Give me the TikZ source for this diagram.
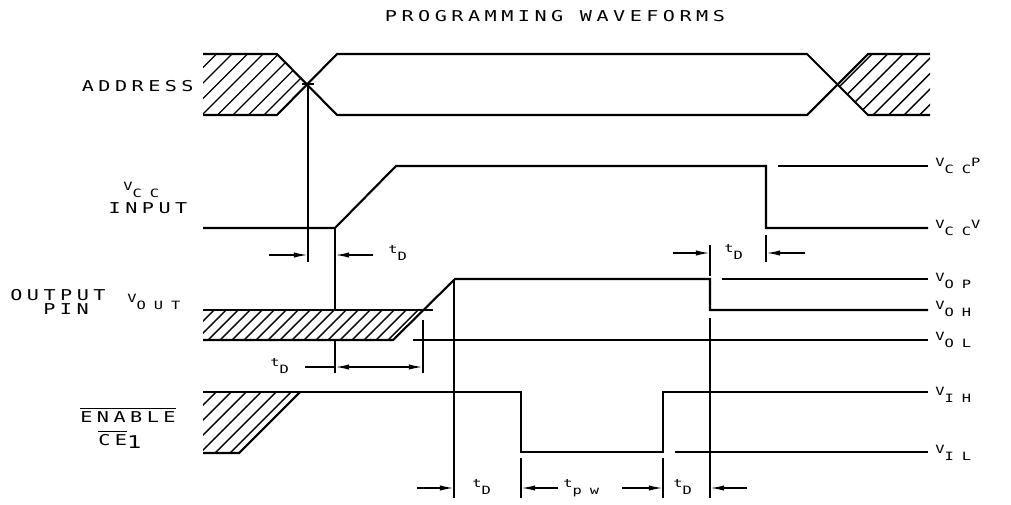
\documentclass[tikz,border=0pt]{standalone}
\usepackage{fontspec}
\usetikzlibrary{arrows.meta}
\newfontfamily\plotfont[FakeStretch=1.35, LetterSpace=30]{DejaVu Sans Mono}
\newfontfamily\plotsmall[FakeStretch=1.35, LetterSpace=70]{DejaVu Sans Mono}
\newcommand{\lo}[1]{\raisebox{-4pt}{#1}}

\begin{document}
\begin{tikzpicture}[x=0.02cm, y=-0.02cm,
    wave/.style={line width=1.2pt},
    hatch/.style={line width=0.8pt},
    ext/.style={line width=0.9pt},
    dim/.style={line width=0.9pt, -{Latex[length=8pt, width=3pt]}},
    lbl/.style={font=\plotfont\fontsize{8.5}{10}\selectfont, inner sep=0pt},
    vlbl/.style={font=\plotsmall\fontsize{6.5}{8}\selectfont, inner sep=0pt}
]
    \useasboundingbox (0,0) rectangle (1011,504);

    % Title
    \node[lbl, anchor=base] (title) at (555,21) {PROGRAMMING WAVEFORMS};

    % Address
    \begin{scope}
        \clip (203,54) -- (277,54) -- (308,84) -- (277,115) -- (203,115) -- cycle;
        \foreach \x in {140,155.5,...,320} \draw[hatch] (\x,115) -- ++(61,-61);
    \end{scope}
    \begin{scope}
        \clip (838,84) -- (868,54) -- (930,54) -- (930,115) -- (868,115) -- cycle;
        \foreach \x in {780,795.5,...,940} \draw[hatch] (\x,115) -- ++(61,-61);
    \end{scope}
    \draw[wave] (203,54) -- (277,54) -- (337,115) -- (807,115) -- (868,54) -- (930,54);
    \draw[wave] (203,115) -- (277,115) -- (337,54) -- (807,54) -- (868,115) -- (930,115);
    \draw[ext] (302,84) -- (314,84);
    \node[lbl, anchor=base east] (addr) at (194,91) {ADDRESS};

    % Vcc input
    \draw[wave] (203,228) -- (335,228) -- (396,166) -- (766,166) -- (766,228) -- (928,228);
    \draw[wave] (778,166) -- (928,166);
    \node[vlbl, anchor=base west] (vcc) at (123,190) {V\lo{CC}};
    \node[lbl, anchor=base] (input) at (148,213) {INPUT};
    \node[vlbl, anchor=base west] (vccp) at (935,166) {V\lo{CC}P};
    \node[vlbl, anchor=base west] (vccv) at (935,228) {V\lo{CC}V};

    % Output pin
    \begin{scope}
        \clip (203,310) -- (423,310) -- (393,340) -- (203,340) -- cycle;
        \foreach \x in {160,172,...,440} \draw[hatch] (\x,340) -- ++(30,-30);
    \end{scope}
    \draw[wave] (203,310) -- (433,310);
    \draw[wave] (203,340) -- (393,340) -- (455,279) -- (710,279) -- (710,310) -- (928,310);
    \draw[wave] (722,279) -- (928,279);
    \draw[wave] (413,340) -- (928,340);
    \node[lbl, anchor=base west] (outl) at (10,300) {OUTPUT};
    \node[lbl, anchor=base west] (pin) at (43,314) {PIN};
    \node[vlbl, anchor=base west] (vout) at (127,302) {V\lo{OUT}};
    \node[vlbl, anchor=base west] (vop) at (935,281) {V\lo{OP}};
    \node[vlbl, anchor=base west] (voh) at (935,309) {V\lo{OH}};
    \node[vlbl, anchor=base west] (vol) at (935,340) {V\lo{OL}};

    % Enable
    \begin{scope}
        \clip (203,392) -- (300,392) -- (239,453) -- (203,453) -- cycle;
        \foreach \x in {140,155,...,320} \draw[hatch] (\x,453) -- ++(61,-61);
    \end{scope}
    \draw[wave] (203,392) -- (521,392) -- (521,452) -- (663,452) -- (663,392) -- (928,392);
    \draw[wave] (203,453) -- (239,453) -- (300,392);
    \draw[wave] (675,452) -- (928,452);
    \node[lbl, anchor=base west] (enable) at (80,422) {$\overline{\hbox{\plotfont\fontsize{8.5}{10}\selectfont ENABLE}}$};
    \node[lbl, anchor=base west] (ce) at (98,445) {$\overline{\hbox{\plotfont\fontsize{8.5}{10}\selectfont CE}}$\raisebox{-2pt}{\fontsize{10}{10}\selectfont 1}};
    \node[vlbl, anchor=base west] (vih) at (935,395) {V\lo{IH}};
    \node[vlbl, anchor=base west] (vil) at (935,453) {V\lo{IL}};

    % Extension lines
    \draw[ext] (308,84) -- (308,262);
    \draw[ext] (335,228) -- (335,309);
    \draw[ext] (335,340) -- (335,373);
    \draw[ext] (423,320) -- (423,373);
    \draw[ext] (454,279) -- (454,498);
    \draw[ext] (710,245) -- (710,276);
    \draw[ext] (710,318) -- (710,498);
    \draw[ext] (766,235) -- (766,262);
    \draw[ext] (521,458) -- (521,498);
    \draw[ext] (663,458) -- (663,498);

    % Timing
    \draw[dim] (269,255) -- (308,255);
    \draw[dim] (373,255) -- (335,255);
    \node[vlbl, anchor=base west] (td1) at (388,253) {t\lo{D}};
    \draw[dim] (673,253) -- (710,253);
    \draw[dim] (805,253) -- (766,253);
    \node[vlbl, anchor=base west] (td2) at (724,252) {t\lo{D}};
    \draw[ext] (305,367) -- (335,367);
    \draw[dim, {Latex[length=8pt, width=3pt]}-{Latex[length=8pt, width=3pt]}] (335,367) -- (423,367);
    \node[vlbl, anchor=base west] (td3) at (270,366) {t\lo{D}};
    \draw[dim] (417,488) -- (454,488);
    \node[vlbl, anchor=base west] (td4) at (472,487) {t\lo{D}};
    \draw[dim] (558,488) -- (521,488);
    \node[vlbl, anchor=base west] (tpw) at (563,487) {t\lo{pw}};
    \draw[dim] (622,488) -- (663,488);
    \node[vlbl, anchor=base west] (td5) at (673,487) {t\lo{D}};
    \draw[dim] (747,488) -- (710,488);
\end{tikzpicture}
\end{document}
